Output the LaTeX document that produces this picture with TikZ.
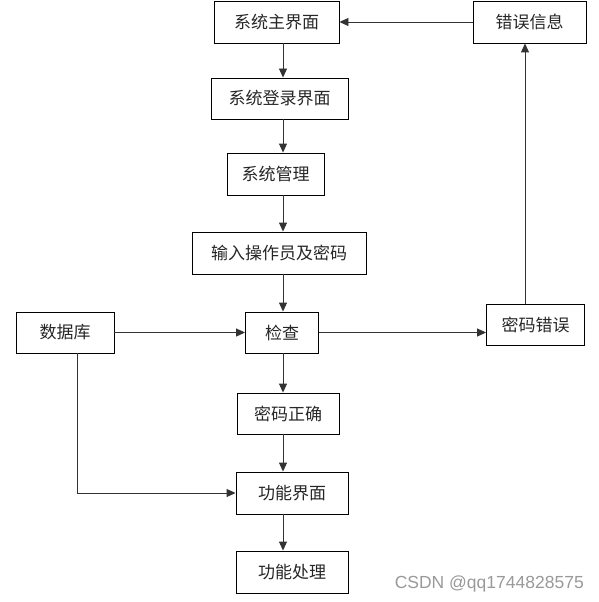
\documentclass[tikz,border=0pt]{standalone}
\usepackage{fontspec}
\newfontfamily\cjk{Noto Sans CJK SC}
\setsansfont{Liberation Sans}
\usetikzlibrary{arrows.meta}
\begin{document}
\begin{tikzpicture}[x=1pt,y=-1pt,
  box/.style={draw=black,line width=0.9pt,inner sep=0pt,font=\cjk\fontsize{17}{17}\selectfont,text=black!85},
  link/.style={draw=black!80,line width=0.9pt,-{Triangle[length=9pt,width=8pt]}},
  plain/.style={draw=black!80,line width=0.9pt}]
\useasboundingbox (0,0) rectangle (598,602);
\node[box,minimum width=125pt,minimum height=42pt] (main) at (276.5,22) {系统主界面};
\node[box,minimum width=113pt,minimum height=42pt] (err) at (529.5,22) {错误信息};
\node[box,minimum width=137pt,minimum height=41pt] (login) at (279.5,98.5) {系统登录界面};
\node[box,minimum width=97pt,minimum height=42pt] (mgmt) at (275.5,174) {系统管理};
\node[box,minimum width=174pt,minimum height=42pt] (input) at (279,253) {输入操作员及密码};
\node[box,minimum width=98pt,minimum height=41pt] (db) at (65,332.5) {数据库};
\node[box,minimum width=73pt,minimum height=41pt] (check) at (282,332.5) {检查};
\node[box,minimum width=98pt,minimum height=41pt] (pwerr) at (535.5,324.5) {密码错误};
\node[box,minimum width=102pt,minimum height=41pt] (pwok) at (288,413.5) {密码正确};
\node[box,minimum width=112pt,minimum height=42pt] (func) at (292,493) {功能界面};
\node[box,minimum width=112pt,minimum height=42pt] (proc) at (292,572) {功能处理};
\coordinate (ax) at (283,0);
\coordinate (rx) at (525,0);
\coordinate (dbx) at (77,0);
\draw[link] (main.south -| ax) -- (login.north -| ax);
\draw[link] (login.south -| ax) -- (mgmt.north -| ax);
\draw[link] (mgmt.south -| ax) -- (input.north -| ax);
\draw[link] (input.south -| ax) -- (check.north -| ax);
\draw[link] (check.south -| ax) -- (pwok.north -| ax);
\draw[link] (pwok.south -| ax) -- (func.north -| ax);
\draw[link] (func.south -| ax) -- (proc.north -| ax);
\draw[link] (err.west) -- (main.east);
\draw[link] (db.east) -- (check.west);
\draw[link] (check.east) -- (pwerr.west |- check.east);
\draw[link] (pwerr.north -| rx) -- (err.south -| rx);
\draw[link] (db.south -| dbx) |- (func.west);
\node[font=\sffamily\fontsize{17.5}{17.5}\selectfont,text=black!40,anchor=east,inner sep=0pt] (wm) at (584,584) {CSDN @qq1744828575};
\end{tikzpicture}
\end{document}
